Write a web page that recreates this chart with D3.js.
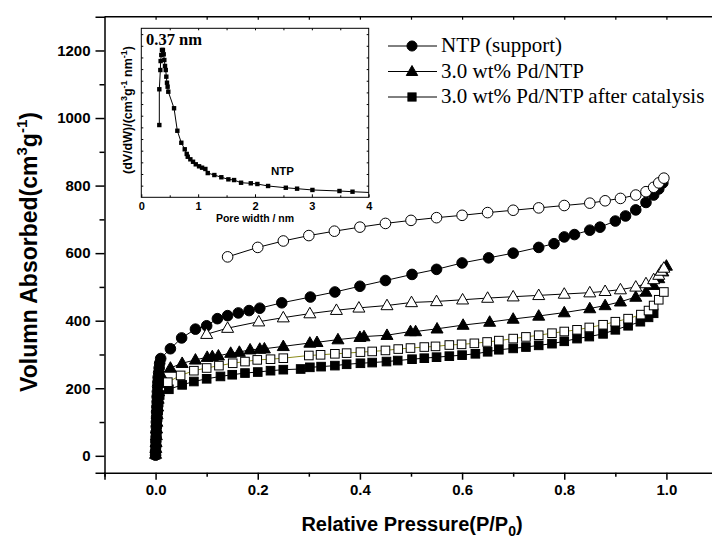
<!DOCTYPE html>
<html lang="en">
<head>
<meta charset="utf-8">
<title>N2 isotherms</title>
<script src="https://cdn.jsdelivr.net/npm/d3@7"></script>
<style>
  body { margin: 0; background: #fff; }
  svg { display: block; }
</style>
</head>
<body>
<div id="chart"></div>
<script>
// ---- data: relative pressure (P/P0) and volume absorbed (cm3 g-1) ----
var ntpAdsP = [0.000, 0.000, 0.0005, 0.0005, 0.001, 0.001, 0.0015, 0.0015, 0.002, 0.002, 0.0025, 0.003, 0.003,
  0.0035, 0.004, 0.0045, 0.005, 0.006, 0.007, 0.008, 0.010,
  0.029, 0.051, 0.078, 0.100, 0.121, 0.141, 0.162, 0.183, 0.204, 0.247, 0.303, 0.351, 0.400, 0.450, 0.502, 0.550,
  0.600, 0.652, 0.700, 0.750, 0.780, 0.800, 0.820, 0.850, 0.870, 0.900, 0.920, 0.940, 0.960, 0.975, 0.985, 0.993];
var ntpAdsV = [2, 14, 28, 42, 56, 70, 85, 100, 115, 130, 145, 160, 175,
  190, 205, 218, 232, 246, 260, 274, 288,
  317, 349, 375, 385, 406, 415, 423, 430, 437, 453, 470, 485, 502, 519, 537, 552,
  571, 586, 600, 617, 628, 648, 655, 668, 677, 695, 710, 728, 750, 772, 790, 808];

var ntpDesP = [0.141, 0.200, 0.250, 0.300, 0.350, 0.400, 0.450, 0.500, 0.550, 0.600, 0.650, 0.700,
  0.750, 0.800, 0.850, 0.880, 0.910, 0.940, 0.960, 0.975, 0.985, 0.995];
var ntpDesV = [589, 617, 636, 652, 665, 677, 688, 697, 705, 712, 720, 727,
  734, 741, 748, 755, 762, 772, 782, 795, 808, 822];

var pdAdsP = [0.000, 0.0005, 0.001, 0.0015, 0.002, 0.0025, 0.003, 0.004, 0.005, 0.006, 0.008, 0.010,
  0.029, 0.052, 0.078, 0.101, 0.111, 0.123, 0.147, 0.164, 0.185, 0.204, 0.213, 0.250, 0.302, 0.316,
  0.357, 0.400, 0.408, 0.453, 0.499, 0.509, 0.551, 0.602, 0.654, 0.700, 0.750, 0.800, 0.850, 0.880,
  0.910, 0.940, 0.960, 0.975, 0.985, 0.993, 1.000];
var pdAdsV = [5, 22, 40, 60, 80, 100, 122, 145, 168, 190, 215, 242,
  260, 274, 284, 292, 294, 296, 304, 307, 314, 316, 317, 324, 334, 336,
  344, 351, 353, 357, 368, 368, 376, 387, 396, 405, 414, 424, 436, 445,
  456, 470, 485, 505, 525, 545, 562];

var pdDesP = [0.100, 0.141, 0.202, 0.250, 0.302, 0.354, 0.398, 0.453, 0.501, 0.550, 0.601, 0.650,
  0.700, 0.750, 0.800, 0.850, 0.880, 0.910, 0.940, 0.960, 0.975, 0.985, 0.990, 0.995];
var pdDesV = [360, 378, 397, 409, 421, 431, 438, 445, 454, 457, 462, 467,
  471, 475, 479, 483, 487, 492, 500, 510, 522, 535, 547, 556];

var catAdsP = [0.000, 0.0005, 0.001, 0.0015, 0.002, 0.003, 0.004, 0.005, 0.006, 0.008,
  0.026, 0.052, 0.075, 0.100, 0.127, 0.150, 0.175, 0.200, 0.225, 0.250, 0.284, 0.302, 0.324, 0.351,
  0.374, 0.401, 0.424, 0.452, 0.474, 0.502, 0.526, 0.550, 0.575, 0.600, 0.626, 0.650, 0.672, 0.700,
  0.725, 0.750, 0.776, 0.800, 0.825, 0.849, 0.876, 0.900, 0.925, 0.949, 0.965, 0.975];
var catAdsV = [3, 20, 38, 56, 75, 95, 115, 135, 158, 180,
  197, 210, 220, 228, 235, 240, 245, 248, 252, 255, 257, 262, 264, 267,
  271, 274, 276, 279, 282, 286, 289, 292, 295, 298, 302, 308, 314, 318,
  322, 327, 332, 339, 347, 353, 361, 373, 385, 397, 410, 422];

var catDesP = [0.024, 0.049, 0.075, 0.100, 0.124, 0.151, 0.175, 0.199, 0.225, 0.250, 0.300, 0.323,
  0.351, 0.374, 0.401, 0.424, 0.450, 0.475, 0.499, 0.526, 0.548, 0.575, 0.599, 0.624, 0.649, 0.672,
  0.700, 0.725, 0.750, 0.776, 0.800, 0.825, 0.849, 0.876, 0.900, 0.925, 0.950, 0.965, 0.975, 0.985, 0.995];
var catDesV = [218, 238, 252, 260, 267, 274, 279, 284, 286, 289, 297, 299,
  302, 304, 307, 309, 312, 316, 319, 322, 324, 328, 330, 333, 337, 341,
  347, 352, 357, 363, 368, 373, 380, 388, 397, 406, 418, 430, 445, 462, 485];

// inset: pore size distribution of NTP
var poreW = [0.317, 0.317, 0.335, 0.340, 0.352, 0.364, 0.380, 0.394, 0.405, 0.417, 0.430, 0.440, 0.452, 0.463,
  0.475, 0.576, 0.634, 0.704, 0.764, 0.799, 0.817, 0.863, 0.910, 0.958, 1.016, 1.069, 1.127, 1.169,
  1.285, 1.408, 1.532, 1.632, 1.755, 1.926, 2.042, 2.230, 2.542, 2.740, 3.010, 3.486, 3.715, 4.300];
var poreDv = [0.620, 0.927, 1.092, 1.169, 1.221, 1.264, 1.264, 1.227, 1.178, 1.127, 1.092, 1.035, 0.983, 0.949,
  0.906, 0.764, 0.571, 0.468, 0.412, 0.372, 0.348, 0.326, 0.305, 0.283, 0.266, 0.254, 0.243, 0.208,
  0.191, 0.172, 0.154, 0.148, 0.125, 0.120, 0.114, 0.097, 0.082, 0.074, 0.063, 0.054, 0.048, 0.035];

var xTicks = [0.0, 0.2, 0.4, 0.6, 0.8, 1.0];
var yTicks = [0, 200, 400, 600, 800, 1000, 1200];
var insetXTicks = [0, 1, 2, 3, 4];

var series = [
  { name: "NTP (support)", p: ntpAdsP, v: ntpAdsV, shape: "circle", fill: "#000", line: "#000", legend: true },
  { name: "", p: ntpDesP, v: ntpDesV, shape: "circle", fill: "#fff", line: "#000" },
  { name: "3.0 wt% Pd/NTP", p: pdAdsP, v: pdAdsV, shape: "triangle", fill: "#000", line: "#000", legend: true },
  { name: "", p: pdDesP, v: pdDesV, shape: "triangle", fill: "#fff", line: "#000" },
  { name: "3.0 wt% Pd/NTP after catalysis", p: catAdsP, v: catAdsV, shape: "square", fill: "#000", line: "#000", legend: true },
  { name: "", p: catDesP, v: catDesV, shape: "square", fill: "#fff", line: "#8c8c1c" }
];

var W = 712, H = 543;
var svg = d3.select("#chart").append("svg").attr("width", W).attr("height", H);

var x = d3.scaleLinear().domain([-0.1, 1.1]).range([104.5, 717.5]);
var y = d3.scaleLinear().domain([-50, 1300]).range([472.7, 16.7]);

var sans = "'Liberation Sans', Arial, sans-serif";
var serif = "'Liberation Serif', 'Times New Roman', serif";

// frame line on top
svg.append("line").attr("x1", x(-0.1)).attr("x2", W).attr("y1", y(1300)).attr("y2", y(1300))
  .attr("stroke", "#000").attr("stroke-width", 1.5);

// bottom axis
var xAxis = d3.axisBottom(x).tickValues(xTicks).tickSize(7).tickPadding(5).tickFormat(d3.format(".1f"));
var gx = svg.append("g").attr("transform", "translate(0," + y(-50) + ")").call(xAxis);
gx.select(".domain").attr("stroke-width", 1.5);
gx.selectAll(".tick line").attr("stroke-width", 1.5);
gx.selectAll("text").attr("font-family", sans).attr("font-weight", "bold").attr("font-size", 15);
svg.append("g").attr("transform", "translate(0," + y(-50) + ")")
  .call(d3.axisBottom(x).tickValues([-0.1, 0.1, 0.3, 0.5, 0.7, 0.9]).tickSize(4).tickFormat(""))
  .call(function (g) { g.select(".domain").remove(); g.selectAll("line").attr("stroke-width", 1.5); });

// top ticks (inward)
svg.append("g").attr("transform", "translate(0," + y(1300) + ")")
  .call(d3.axisBottom(x).tickValues(d3.range(0, 11).map(function (i) { return i / 10; })).tickSize(3).tickFormat(""))
  .call(function (g) { g.select(".domain").remove(); g.selectAll("line").attr("stroke-width", 1.2); });

// left axis
var yAxis = d3.axisLeft(y).tickValues(yTicks).tickSize(9).tickPadding(5).tickFormat(d3.format("d"));
var gy = svg.append("g").attr("transform", "translate(" + x(-0.1) + ",0)").call(yAxis);
gy.select(".domain").attr("stroke-width", 1.5);
gy.selectAll(".tick line").attr("stroke-width", 1.5);
gy.selectAll("text").attr("font-family", sans).attr("font-weight", "bold").attr("font-size", 15);
svg.append("g").attr("transform", "translate(" + x(-0.1) + ",0)")
  .call(d3.axisLeft(y).tickValues([100, 300, 500, 700, 900, 1100]).tickSize(5).tickFormat(""))
  .call(function (g) { g.select(".domain").remove(); g.selectAll("line").attr("stroke-width", 1.5); });

// axis titles
var xt = svg.append("text").attr("x", 412).attr("y", 531).attr("text-anchor", "middle")
  .attr("font-family", sans).attr("font-weight", "bold").attr("font-size", 20);
xt.append("tspan").text("Relative Pressure(P/P");
xt.append("tspan").attr("font-size", 14).attr("dy", 5).text("0");
xt.append("tspan").attr("dy", -5).text(")");

var yt = svg.append("text").attr("transform", "translate(37,252) rotate(-90)").attr("text-anchor", "middle")
  .attr("font-family", sans).attr("font-weight", "bold").attr("font-size", 23);
yt.append("tspan").text("Volumn Absorbed(cm");
yt.append("tspan").attr("font-size", 15).attr("dy", -10).text("3");
yt.append("tspan").attr("dy", 10).text("g");
yt.append("tspan").attr("font-size", 15).attr("dy", -10).text("-1");
yt.append("tspan").attr("dy", 10).text(")");

// markers
function drawMarker(g, shape, cx, cy, fill, size) {
  var s = size || 1;
  if (shape === "circle") {
    g.append("circle").attr("cx", cx).attr("cy", cy).attr("r", 5.3 * s)
      .attr("fill", fill).attr("stroke", "#000").attr("stroke-width", 1);
  } else if (shape === "triangle") {
    var h = 10.5 * s, b = 6 * s;
    g.append("path").attr("d", "M" + cx + "," + (cy - h * 0.6) + "L" + (cx + b) + "," + (cy + h * 0.4) +
      "L" + (cx - b) + "," + (cy + h * 0.4) + "Z")
      .attr("fill", fill).attr("stroke", "#000").attr("stroke-width", 1);
  } else {
    var a = 8.6 * s;
    g.append("rect").attr("x", cx - a / 2).attr("y", cy - a / 2).attr("width", a).attr("height", a)
      .attr("fill", fill).attr("stroke", "#000").attr("stroke-width", 1);
  }
}

svg.append("clipPath").attr("id", "plotClip").append("rect")
  .attr("x", x(-0.1)).attr("y", y(1300)).attr("width", W - x(-0.1)).attr("height", y(-50) - y(1300));

var plot = svg.append("g").attr("clip-path", "url(#plotClip)");
var lineGen = d3.line().x(function (d) { return x(d[0]); }).y(function (d) { return y(d[1]); });

series.forEach(function (s) {
  var pts = s.p.map(function (p, i) { return [p, s.v[i]]; });
  plot.append("path").attr("d", lineGen(pts)).attr("fill", "none").attr("stroke", s.line).attr("stroke-width", 1);
});
series.forEach(function (s) {
  var g = plot.append("g");
  s.p.forEach(function (p, i) { drawMarker(g, s.shape, x(p), y(s.v[i]), s.fill); });
});

// legend
var legend = svg.append("g");
series.filter(function (s) { return s.legend; }).forEach(function (s, i) {
  var ly = 46 + i * 25.5;
  legend.append("line").attr("x1", 388).attr("x2", 437).attr("y1", ly).attr("y2", ly)
    .attr("stroke", "#000").attr("stroke-width", 1);
  drawMarker(legend, s.shape, 412, ly, s.fill, 0.95);
  legend.append("text").attr("transform", "translate(441," + (ly + 6) + ") scale(1.05,1)")
    .attr("font-family", serif).attr("font-size", 20).text(s.name);
});

// inset
var ix = d3.scaleLinear().domain([0, 4]).range([141.3, 368.7]);
var iy = d3.scaleLinear().domain([0, 1.45]).range([197.3, 28.3]);
var inset = svg.append("g");
inset.append("rect").attr("x", ix(0)).attr("y", iy(1.45)).attr("width", ix(4) - ix(0)).attr("height", iy(0) - iy(1.45))
  .attr("fill", "#fff").attr("stroke", "#000").attr("stroke-width", 1);

var ixAxis = d3.axisBottom(ix).tickValues(insetXTicks).tickSize(-3).tickPadding(5).tickFormat(d3.format("d"));
var gix = inset.append("g").attr("transform", "translate(0," + iy(0) + ")").call(ixAxis);
gix.select(".domain").remove();
gix.selectAll("text").attr("font-family", sans).attr("font-weight", "bold").attr("font-size", 11);
inset.append("g").attr("transform", "translate(0," + iy(0) + ")")
  .call(d3.axisBottom(ix).tickValues([0.5, 1.5, 2.5, 3.5]).tickSize(-2).tickFormat(""))
  .call(function (g) { g.select(".domain").remove(); });
inset.append("g").attr("transform", "translate(0," + iy(1.45) + ")")
  .call(d3.axisTop(ix).tickValues([0.5, 1, 1.5, 2, 2.5, 3, 3.5]).tickSize(-2).tickFormat(""))
  .call(function (g) { g.select(".domain").remove(); });
inset.append("g").attr("transform", "translate(" + ix(0) + ",0)")
  .call(d3.axisLeft(iy).tickValues(d3.range(1, 15).map(function (i) { return i / 10; })).tickSize(-2).tickFormat(""))
  .call(function (g) { g.select(".domain").remove(); });
inset.append("g").attr("transform", "translate(" + ix(4) + ",0)")
  .call(d3.axisRight(iy).tickValues(d3.range(1, 15).map(function (i) { return i / 10; })).tickSize(-2).tickFormat(""))
  .call(function (g) { g.select(".domain").remove(); });

inset.append("clipPath").attr("id", "insetClip").append("rect")
  .attr("x", ix(0)).attr("y", iy(1.45)).attr("width", ix(4) - ix(0)).attr("height", iy(0) - iy(1.45));
var ip = inset.append("g").attr("clip-path", "url(#insetClip)");
var ipts = poreW.map(function (w, i) { return [w, poreDv[i]]; });
ip.append("path").attr("d", d3.line().x(function (d) { return ix(d[0]); }).y(function (d) { return iy(d[1]); })(ipts))
  .attr("fill", "none").attr("stroke", "#000").attr("stroke-width", 1);
ip.selectAll("rect.pt").data(ipts).enter().append("rect").attr("class", "pt")
  .attr("x", function (d) { return ix(d[0]) - 2.2; }).attr("y", function (d) { return iy(d[1]) - 2.2; })
  .attr("width", 4.4).attr("height", 4.4).attr("fill", "#000");

inset.append("text").attr("x", 146).attr("y", 45).attr("font-family", serif).attr("font-weight", "bold")
  .attr("font-size", 16.5).text("0.37 nm");
inset.append("text").attr("x", 271).attr("y", 175).attr("font-family", sans).attr("font-weight", "bold")
  .attr("font-size", 11.5).text("NTP");
inset.append("text").attr("x", 255).attr("y", 222).attr("text-anchor", "middle").attr("font-family", sans)
  .attr("font-weight", "bold").attr("font-size", 10.5).text("Pore width / nm");

var iyt = inset.append("text").attr("transform", "translate(132,110) rotate(-90)").attr("text-anchor", "middle")
  .attr("font-family", sans).attr("font-weight", "bold").attr("font-size", 12.5);
iyt.append("tspan").text("(dV/dW)/(cm");
iyt.append("tspan").attr("font-size", 9).attr("dy", -5).text("3");
iyt.append("tspan").attr("dy", 5).text("g");
iyt.append("tspan").attr("font-size", 9).attr("dy", -5).text("-1");
iyt.append("tspan").attr("dy", 5).text(" nm");
iyt.append("tspan").attr("font-size", 9).attr("dy", -5).text("-1");
iyt.append("tspan").attr("dy", 5).text(")");
</script>
</body>
</html>
